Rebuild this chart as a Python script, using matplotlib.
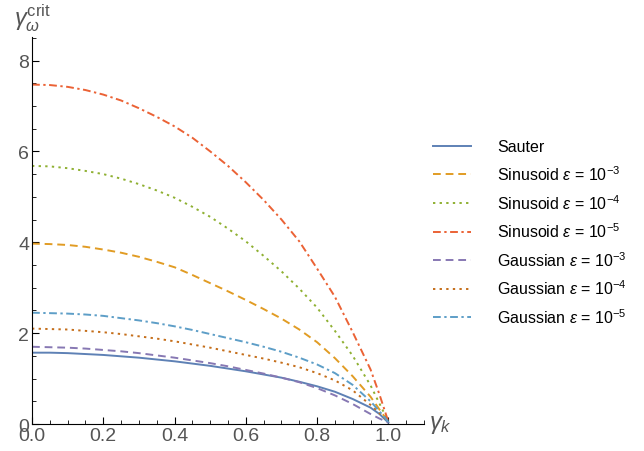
import numpy as np
import matplotlib
matplotlib.use('Agg')
import matplotlib.pyplot as plt
from matplotlib.ticker import MultipleLocator

plt.rcParams['font.family'] = ['Liberation Sans', 'DejaVu Sans']
plt.rcParams['mathtext.fontset'] = 'custom'
plt.rcParams['mathtext.rm'] = 'Liberation Sans'
plt.rcParams['mathtext.it'] = 'Liberation Sans:italic'
plt.rcParams['mathtext.fallback'] = 'stixsans'

# values
gk = [0.0, 0.05, 0.1, 0.15, 0.2, 0.25, 0.3, 0.35, 0.4, 0.45, 0.5, 0.55, 0.6,
      0.65, 0.7, 0.75, 0.8, 0.85, 0.9, 0.95, 0.975, 1.0]
sauter = [1.57, 1.57, 1.56, 1.54, 1.52, 1.49, 1.46, 1.42, 1.38, 1.33, 1.28, 1.22, 1.16,
          1.09, 1.02, 0.93, 0.83, 0.71, 0.55, 0.36, 0.22, 0.03]
sin_3 = [3.97, 3.96, 3.94, 3.90, 3.84, 3.77, 3.68, 3.57, 3.45, 3.28, 3.10, 2.92, 2.73,
         2.53, 2.32, 2.08, 1.80, 1.45, 1.05, 0.60, 0.32, 0.05]
sin_4 = [5.68, 5.67, 5.63, 5.57, 5.50, 5.40, 5.28, 5.14, 4.98, 4.78, 4.56, 4.30, 4.02,
         3.70, 3.36, 2.98, 2.56, 2.05, 1.50, 0.85, 0.45, 0.05]
sin_5 = [7.47, 7.46, 7.42, 7.35, 7.25, 7.12, 6.95, 6.76, 6.55, 6.30, 6.00, 5.68, 5.32,
         4.93, 4.50, 4.02, 3.42, 2.80, 2.02, 1.20, 0.65, 0.05]
gau_3 = [1.70, 1.69, 1.68, 1.66, 1.63, 1.60, 1.56, 1.51, 1.46, 1.40, 1.34, 1.27, 1.19,
         1.11, 1.02, 0.92, 0.79, 0.63, 0.44, 0.22, 0.12, 0.03]
gau_4 = [2.10, 2.09, 2.08, 2.05, 2.02, 1.98, 1.93, 1.88, 1.82, 1.75, 1.68, 1.60, 1.52,
         1.44, 1.35, 1.25, 1.12, 0.96, 0.74, 0.42, 0.24, 0.05]
gau_5 = [2.45, 2.44, 2.43, 2.41, 2.38, 2.33, 2.28, 2.22, 2.15, 2.07, 1.98, 1.89, 1.80,
         1.70, 1.59, 1.46, 1.31, 1.12, 0.86, 0.50, 0.28, 0.05]

fig = plt.figure(figsize=(6.44, 4.52), dpi=100)
ax = fig.add_axes([0.0497, 0.0597, 0.6087, 0.8565])

dash = (0, (4, 2.5))
dot = (0, (1.2, 2.2))
dashdot = (0, (4, 1.8, 1.2, 1.8))
eps = r'$\epsilon$'
ax.plot(gk, sauter, color='#5E81B5', lw=1.4, label='Sauter')
ax.plot(gk, sin_3, color='#E19C24', lw=1.4, ls=dash, label=f'Sinusoid {eps} = 10$^{{-3}}$')
ax.plot(gk, sin_4, color='#8FB032', lw=1.4, ls=dot, label=f'Sinusoid {eps} = 10$^{{-4}}$')
ax.plot(gk, sin_5, color='#EB6235', lw=1.4, ls=dashdot, label=f'Sinusoid {eps} = 10$^{{-5}}$')
ax.plot(gk, gau_3, color='#8778B3', lw=1.4, ls=dash, label=f'Gaussian {eps} = 10$^{{-3}}$')
ax.plot(gk, gau_4, color='#C56E1A', lw=1.4, ls=dot, label=f'Gaussian {eps} = 10$^{{-4}}$')
ax.plot(gk, gau_5, color='#5D9EC7', lw=1.4, ls=dashdot, label=f'Gaussian {eps} = 10$^{{-5}}$')

ax.set_xlim(0, 1.1)
ax.set_ylim(0, 8.52)
ax.xaxis.set_major_locator(MultipleLocator(0.2))
ax.xaxis.set_minor_locator(MultipleLocator(0.05))
ax.yaxis.set_major_locator(MultipleLocator(2))
ax.yaxis.set_minor_locator(MultipleLocator(0.5))
ax.xaxis.set_major_formatter(plt.FuncFormatter(lambda v, p: f'{v:.1f}'))
ax.spines['top'].set_visible(False)
ax.spines['right'].set_visible(False)
ax.tick_params(direction='in', which='major', length=5, labelsize=14, labelcolor='#555555', pad=2)
ax.tick_params(direction='in', which='minor', length=3)

ax.text(1.115, 0, r'$\gamma_k$', fontsize=17, color='#555555', va='center', ha='left')
ax.text(0, 8.6, r'$\gamma_\omega^{\rm crit}$', fontsize=17, color='#555555', va='bottom', ha='center')

ax.legend(loc='center left', bbox_to_anchor=(1.023, 0.494), frameon=False, fontsize=11.5,
          borderaxespad=0, borderpad=0,
          handlelength=2.4, labelspacing=0.62, handletextpad=1.6)

fig.savefig('out.png', dpi=100)
